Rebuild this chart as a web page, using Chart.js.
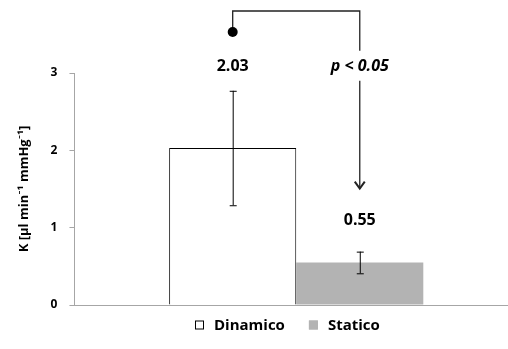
<!DOCTYPE html>
<html>
<head>
<meta charset="utf-8">
<script src="https://cdn.jsdelivr.net/npm/chart.js@4"></script>
<style>
  html, body { margin: 0; padding: 0; background: #fff; overflow: hidden; }
  #view { width: 508px; height: 349px; overflow: hidden; }
  #wrap { width: 526px; height: 349px; position: relative; }
</style>
</head>
<body>
<div id="view"><div id="wrap"><canvas id="c"></canvas></div></div>
<script>
// Values
const categories = ['K'];
const seriesNames = ['Dinamico', 'Statico'];
const means = [2.03, 0.55];
const errors = [0.74, 0.14];
const valueLabels = ['2.03', '0.55'];
const yTicks = [0, 1, 2, 3];
const yTitle = 'K [µl min⁻¹ mmHg⁻¹]';
const pLabel = 'p < 0.05';

const fillColors = ['#ffffff', '#b3b3b3'];
const edgeColors = ['#000000', '#b3b3b3'];
const FONT = '"Open Sans", Lato, sans-serif';

// Error bars, value labels, significance bracket and legend
const overlay = {
  id: 'overlay',
  afterDatasetsDraw(chart) {
    const ctx = chart.ctx;
    const y = chart.scales.y;
    const area = chart.chartArea;
    const xs = [];
    const labelY = [];
    const labelGap = [24, 31];

    ctx.save();
    means.forEach((m, i) => {
      const bar = chart.getDatasetMeta(i).data[0];
      const x = bar.x;
      xs.push(x);
      const yHi = y.getPixelForValue(m + errors[i]);
      const yLo = y.getPixelForValue(m - errors[i]);
      ctx.strokeStyle = '#000';
      ctx.lineWidth = 1;
      ctx.beginPath();
      ctx.moveTo(x + 0.5, yHi); ctx.lineTo(x + 0.5, yLo);
      ctx.moveTo(x - 3, yHi + 0.5); ctx.lineTo(x + 4, yHi + 0.5);
      ctx.moveTo(x - 3, yLo + 0.5); ctx.lineTo(x + 4, yLo + 0.5);
      ctx.stroke();

      const ly = yHi - labelGap[i];
      labelY.push(ly);
      ctx.fillStyle = '#000';
      ctx.font = 'bold 16px ' + FONT;
      ctx.textAlign = 'center';
      ctx.textBaseline = 'middle';
      ctx.fillText(valueLabels[i], x, ly);
    });

    // Bracket from the first bar's label to an arrow over the second
    const x0 = xs[0], x1 = xs[1];
    const dotY = area.top - 41;
    const topY = area.top - 62;
    const pY = labelY[0];
    const tipY = labelY[1] - 32;
    ctx.strokeStyle = '#222';
    ctx.lineWidth = 1.3;
    ctx.beginPath();
    ctx.moveTo(x0, dotY); ctx.lineTo(x0, topY);
    ctx.lineTo(x1, topY); ctx.lineTo(x1, pY - 16);
    ctx.moveTo(x1, pY + 14); ctx.lineTo(x1, tipY);
    ctx.stroke();
    ctx.lineWidth = 2;
    ctx.beginPath();
    ctx.moveTo(x1 - 5, tipY - 7); ctx.lineTo(x1, tipY); ctx.lineTo(x1 + 5, tipY - 7);
    ctx.stroke();
    ctx.fillStyle = '#000';
    ctx.beginPath();
    ctx.arc(x0, dotY, 5, 0, Math.PI * 2);
    ctx.fill();

    ctx.font = 'italic bold 16px ' + FONT;
    ctx.textAlign = 'center';
    ctx.textBaseline = 'middle';
    ctx.fillText(pLabel, x1, pY);

    // Legend under the plot area
    ctx.font = 'bold 15px ' + FONT;
    ctx.textBaseline = 'middle';
    ctx.textAlign = 'left';
    const box = 9, gapBox = 10, gapItem = 24;
    const widths = seriesNames.map(n => box + gapBox + ctx.measureText(n).width);
    const total = widths.reduce((a, b) => a + b, 0) + gapItem * (seriesNames.length - 1);
    const centre = (area.left + area.right) / 2 - 9;
    let lx = Math.round(centre - total / 2);
    const legY = Math.round(area.bottom + 20);
    seriesNames.forEach((n, i) => {
      ctx.fillStyle = fillColors[i];
      ctx.fillRect(lx, legY - box / 2, box, box);
      ctx.strokeStyle = i === 0 ? '#000' : fillColors[i];
      ctx.lineWidth = 1;
      ctx.strokeRect(lx + 0.5, legY - box / 2 + 0.5, box - 1, box - 1);
      ctx.fillStyle = '#000';
      ctx.fillText(n, lx + box + gapBox, legY + 1);
      lx += widths[i] + gapItem;
    });
    ctx.restore();
  }
};

new Chart(document.getElementById('c'), {
  type: 'bar',
  data: {
    labels: categories,
    datasets: seriesNames.map((name, i) => ({
      label: name,
      data: [means[i]],
      backgroundColor: fillColors[i],
      borderColor: edgeColors[i],
      borderWidth: i === 0 ? 1 : 0,
      borderSkipped: 'bottom',
      categoryPercentage: 0.573,
      barPercentage: 1.0
    }))
  },
  options: {
    responsive: true,
    maintainAspectRatio: false,
    animation: false,
    layout: { padding: { top: 73, right: 8, bottom: 36, left: 10 } },
    plugins: { legend: { display: false }, tooltip: { enabled: false } },
    scales: {
      x: {
        grid: { display: false },
        border: { display: true, color: '#a6a6a6', width: 1 },
        ticks: { display: false }
      },
      y: {
        min: 0, max: 3,
        afterBuildTicks(scale) { scale.ticks = yTicks.map(v => ({ value: v })); },
        grid: { display: true, drawOnChartArea: false, tickLength: 5, color: '#a6a6a6' },
        border: { display: true, color: '#a6a6a6', width: 1 },
        ticks: {
          color: '#000', padding: 12,
          font: { family: FONT, size: 12, weight: 'bold' }
        },
        title: {
          display: true, text: yTitle, color: '#000', padding: { top: 6, bottom: 7 },
          font: { family: FONT, size: 13, weight: 'bold' }
        }
      }
    }
  },
  plugins: [overlay]
});
</script>
</body>
</html>
